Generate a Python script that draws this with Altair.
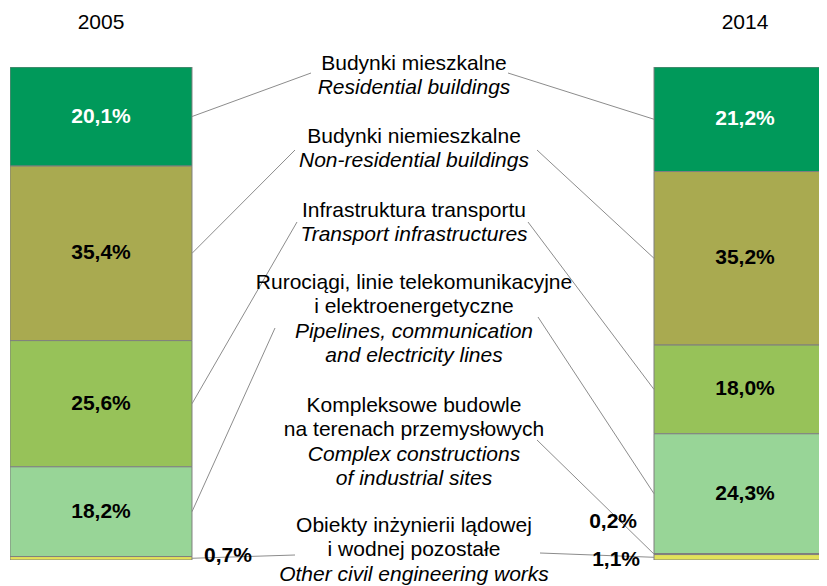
import altair as alt
import pandas as pd

years = ["2005", "2014"]
categories = ["Residential", "NonResidential", "Transport", "Pipelines", "Complex", "Other"]
share_2005 = [20.1, 35.4, 25.6, 18.2, 0.0, 0.7]
share_2014 = [21.2, 35.2, 18.0, 24.3, 0.2, 1.1]
colors = ["#00995A", "#A9AA50", "#97C259", "#98D597", "#666666", "#E2E25A"]

label_pl = [
    ["Budynki mieszkalne"],
    ["Budynki niemieszkalne"],
    ["Infrastruktura transportu"],
    ["Rurociągi, linie telekomunikacyjne", "i elektroenergetyczne"],
    ["Kompleksowe budowle", "na terenach przemysłowych"],
    ["Obiekty inżynierii lądowej", "i wodnej pozostałe"],
]
label_en = [
    ["Residential buildings"],
    ["Non-residential buildings"],
    ["Transport infrastructures"],
    ["Pipelines, communication", "and electricity lines"],
    ["Complex constructions", "of industrial sites"],
    ["Other civil engineering works"],
]

# ---- layout constants (pixels inside the plot area) ----
W, H = 809, 493
FONT = "Liberation Sans"
FS = 21
LINE_H = 24.4
BLOCK_X = 404
BLOCK_Y = [3, 76, 150, 222, 345, 465]
# leader lines: (year, category index, band position, label-end x, label-end y)
LEADERS = [
    ("2005", 0, 1, 301, 6), ("2005", 1, 1, 285, 83), ("2005", 2, 1, 287, 155),
    ("2005", 3, 1, 265, 261), ("2005", 5, 1, 285, 488),
    ("2014", 0, 0, 498, 6), ("2014", 1, 0, 527, 83), ("2014", 2, 0, 518, 155),
    ("2014", 3, 0, 528, 250), ("2014", 4, 0, 527, 373), ("2014", 5, 0, 530, 486),
]
# outside value labels: (year, category index, band pos, dx, dy, align)
OUTSIDE = [
    ("2005", 5, 1, 12, -2, "left"),
    ("2014", 4, 0, -17, -32, "right"),
    ("2014", 5, 0, -14, 3, "right"),
]


def fmt(v):
    return f"{v:.1f}".replace(".", ",") + "%"


rows = []
for year, shares in zip(years, [share_2005, share_2014]):
    top = 100.0
    for i, (cat, v) in enumerate(zip(categories, shares)):
        rows.append(dict(year=year, category=cat, idx=i, value=v,
                         y0=top - v, y1=top, mid=top - v / 2, label=fmt(v)))
        top -= v
seg = pd.DataFrame(rows)

x_scale = alt.Scale(domain=years, range=[0, 826], paddingInner=0.7174, paddingOuter=0)
x_axis = alt.Axis(orient="top", labelAngle=0, domain=False, ticks=False, title=None,
                  labelFontSize=FS, labelFont=FONT, labelColor="black", labelPadding=35,
                  grid=False)
y_scale = alt.Scale(domain=[0, 100], nice=False, zero=True)


def X(bp=None):
    if bp is None:
        return alt.X("year:N", scale=x_scale, axis=x_axis, sort=years)
    return alt.X("year:N", scale=x_scale, axis=x_axis, sort=years, bandPosition=bp)


def Y(field):
    return alt.Y(f"{field}:Q", scale=y_scale, axis=None)


bars = alt.Chart(seg).mark_bar(stroke="#7F7F7F", strokeWidth=1, clip=True).encode(
    x=X(),
    y=Y("y0"),
    y2="y1:Q",
    color=alt.Color("category:N", scale=alt.Scale(domain=categories, range=colors), legend=None),
)

inside = alt.Chart(seg).transform_filter(alt.datum.value >= 5).mark_text(
    font=FONT, fontSize=FS, fontWeight="bold", baseline="middle", align="center"
).encode(
    x=X(0.5),
    y=Y("mid"),
    text="label:N",
    color=alt.condition(alt.datum.category == "Residential", alt.value("white"), alt.value("black")),
)

layers = [bars, inside]

for year, ci, bp, ex, ey in LEADERS:
    d = seg[(seg.year == year) & (seg.idx == ci)]
    layers.append(
        alt.Chart(d).mark_rule(color="#8C8C8C", strokeWidth=1).encode(
            x=X(bp), y=Y("mid"), x2=alt.value(ex), y2=alt.value(ey)
        )
    )

for year, ci, bp, dx, dy, al in OUTSIDE:
    d = seg[(seg.year == year) & (seg.idx == ci)]
    layers.append(
        alt.Chart(d).mark_text(font=FONT, fontSize=FS, fontWeight="bold", baseline="middle",
                               align=al, dx=dx, dy=dy, color="black").encode(
            x=X(bp), y=Y("mid"), text="label:N"
        )
    )

ann = []
for b, (pl, en) in enumerate(zip(label_pl, label_en)):
    k = 0
    for t in pl:
        ann.append(dict(txt=t, py=BLOCK_Y[b] + k * LINE_H, style="normal"))
        k += 1
    for t in en:
        ann.append(dict(txt=t, py=BLOCK_Y[b] + k * LINE_H, style="italic"))
        k += 1
ann = pd.DataFrame(ann)

for style in ["normal", "italic"]:
    layers.append(
        alt.Chart(ann[ann["style"] == style]).mark_text(
            font=FONT, fontSize=FS, fontStyle=style, baseline="alphabetic", align="center",
            color="black"
        ).encode(
            x=alt.value(BLOCK_X),
            y=alt.Y("py:Q", scale=None, axis=None),
            text="txt:N",
        )
    )

chart = alt.layer(*layers).properties(
    width=W, height=H,
    background="white",
    autosize=alt.AutoSizeParams(type="none"),
    padding={"top": 59, "left": 2, "right": 0, "bottom": 26},
).configure_view(strokeWidth=0, stroke="transparent").configure_axis(
    domain=False, ticks=False, grid=False
)

chart.save("out.html", embed_options={"renderer": "svg", "actions": False})
